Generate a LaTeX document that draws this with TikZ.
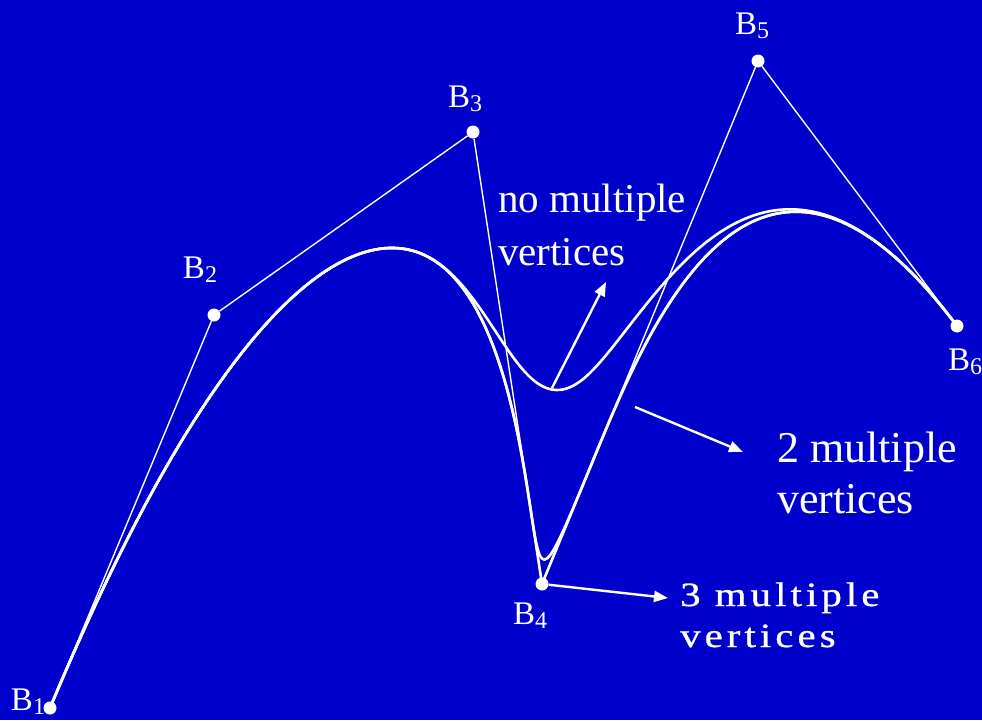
\documentclass[tikz,border=0pt]{standalone}
\usepackage{graphicx}
\usepackage{fontspec}
\setmainfont{Liberation Serif}
\newfontfamily\wideserif[LetterSpace=10,FakeBold=0.8]{Liberation Serif}
\usetikzlibrary{calc,arrows.meta}
\definecolor{bgblue}{RGB}{0,0,204}
\newcommand{\blbl}[1]{B\raisebox{-4pt}{\fontsize{24}{24}\selectfont #1}}
\begin{document}
\begin{tikzpicture}[x=1pt,y=-1pt,
  poly/.style={draw=white, line width=1.4pt},
  curve/.style={draw=white, line width=2.6pt, line join=round},
  ctrlpt/.style={circle, fill=white, inner sep=0pt, minimum size=13pt},
  lbl/.style={text=white, font=\fontsize{33}{33}\selectfont, inner sep=0pt},
  txt/.style={text=white, inner sep=0pt, anchor=base west},
  pointer/.style={draw=white, line width=2.4pt, -{Triangle[length=14pt,width=11pt]}}]
\fill[bgblue] (0,0) rectangle (982,720);
\useasboundingbox (0,0) rectangle (982,720);
% control vertices
\coordinate (p1) at (50,708);
\coordinate (p2) at (214,315);
\coordinate (p3) at (473,132);
\coordinate (p4) at (542,584);
\coordinate (p5) at (758,61);
\coordinate (p6) at (957,326);
% Bezier points of the cubic B-splines
\coordinate (M23) at ($(p2)!0.5!(p3)$);
\coordinate (Qa) at ($(p3)!1/3!(p4)$);
\coordinate (Qb) at ($(p3)!2/3!(p4)$);
\coordinate (M45) at ($(p4)!0.5!(p5)$);
\coordinate (J1) at ($(M23)!0.5!(Qa)$);
\coordinate (J2) at ($(Qb)!0.5!(M45)$);
\coordinate (K2) at ($(Qb)!0.5!(p4)$);
\coordinate (K3) at ($(p4)!0.5!(M45)$);
% no multiple vertices
\draw[curve] (p1) .. controls (p2) and (M23) .. (J1) .. controls (Qa) and (Qb) .. (J2) .. controls (M45) and (p5) .. (p6);
% 2 multiple vertices
\draw[curve] (p1) .. controls (p2) and (M23) .. (J1) .. controls (Qa) and (Qb) .. (K2) .. controls (p4) and (p4) .. (K3) .. controls (M45) and (p5) .. (p6);
% 3 multiple vertices
\draw[curve] (p1) .. controls (p2) and (M23) .. (J1) .. controls (Qa) and (Qb) .. (K2) -- (p4) -- (K3) .. controls (M45) and (p5) .. (p6);
% vertices
\node[ctrlpt] (B1) at (p1) {};
\node[ctrlpt] (B2) at (p2) {};
\node[ctrlpt] (B3) at (p3) {};
\node[ctrlpt] (B4) at (p4) {};
\node[ctrlpt] (B5) at (p5) {};
\node[ctrlpt] (B6) at (p6) {};
\draw[poly] (B1) -- (B2) -- (B3) -- (B4) -- (B5) -- (B6);
% labels
\node[lbl] (L1) at (28,702) {\blbl{1}};
\node[lbl] (L2) at (200,270) {\blbl{2}};
\node[lbl] (L3) at (465,99) {\blbl{3}};
\node[lbl] (L4) at (530,616) {\blbl{4}};
\node[lbl] (L5) at (752,26) {\blbl{5}};
\node[lbl] (L6) at (965,362) {\blbl{6}};
% texts
\node[txt, font=\fontsize{41}{41}\selectfont] (T1a) at (498,212) {no multiple};
\node[txt, font=\fontsize{41}{41}\selectfont] (T1b) at (498,265) {vertices};
\node[txt, font=\fontsize{44}{44}\selectfont] (T2a) at (777,462) {2 multiple};
\node[txt, font=\fontsize{44}{44}\selectfont] (T2b) at (777,513) {vertices};
\node[txt] (T3a) at (680,606) {\scalebox{1.2}[1]{\wideserif\fontsize{34}{34}\selectfont 3 multiple}};
\node[txt] (T3b) at (680,647) {\scalebox{1.2}[1]{\wideserif\fontsize{34}{34}\selectfont vertices}};
% pointers
\coordinate (s1) at (552,388);
\coordinate (e1) at (606,282);
\coordinate (s2) at (635,407);
\coordinate (e2) at (743,452);
\coordinate (e3) at (668,598);
\draw[pointer] (s1) -- (e1);
\draw[pointer] (s2) -- (e2);
\draw[pointer] (B4) -- (e3);
\end{tikzpicture}
\end{document}
